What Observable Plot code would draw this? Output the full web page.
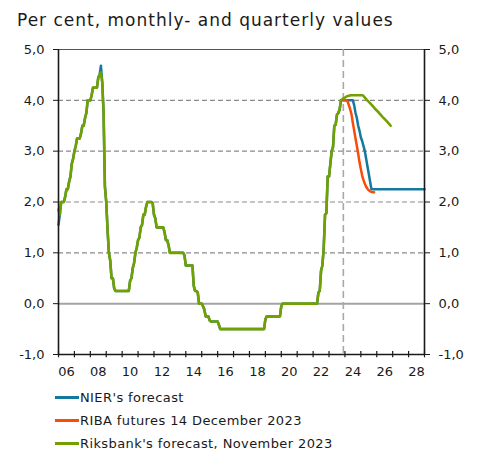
<!DOCTYPE html>
<html>
<head>
<meta charset="utf-8">
<script src="https://cdn.jsdelivr.net/npm/d3@7"></script>
<script src="https://cdn.jsdelivr.net/npm/@observablehq/plot@0.6"></script>
<style>
  html, body { margin: 0; padding: 0; background: #fff; }
  body { width: 480px; height: 452px; position: relative; overflow: hidden; font-family: "DejaVu Sans", sans-serif; color: #1a1a1a; }
  #subtitle { position: absolute; left: 17px; top: 12px; font-size: 17px; line-height: 17px; letter-spacing: 1px; white-space: nowrap; }
  #chart { position: absolute; left: 0; top: 0; }
  .leg { position: absolute; left: 55px; height: 16px; display: flex; align-items: center; font-size: 13px; letter-spacing: 0.4px; white-space: nowrap; }
  .sw { display: inline-block; width: 24px; height: 3px; margin-right: 1px; }
</style>
</head>
<body>
<div id="subtitle">Per cent, monthly- and quarterly values</div>
<div id="chart"></div>
<div id="legend"></div>
<script>
// ---- Data ----
const histYears = [2006,2007,2008,2009,2010,2011,2012,2013,2014,2015,2016,2017,2018,2019,2020,2021,2022,2023];
const policyRate = [
  [1.55,1.75,2.00,2.00,2.00,2.10,2.25,2.25,2.40,2.50,2.75,2.85],
  [3.00,3.10,3.25,3.25,3.25,3.35,3.50,3.50,3.65,3.75,4.00,4.00],
  [4.00,4.10,4.25,4.25,4.25,4.25,4.45,4.50,4.68,4.35,3.75,2.30],
  [2.00,1.45,1.00,0.85,0.50,0.50,0.30,0.25,0.25,0.25,0.25,0.25],
  [0.25,0.25,0.25,0.25,0.25,0.25,0.45,0.50,0.70,0.80,1.00,1.10],
  [1.25,1.30,1.50,1.55,1.75,1.75,1.90,2.00,2.00,2.00,2.00,1.98],
  [1.75,1.68,1.50,1.50,1.50,1.50,1.50,1.50,1.40,1.25,1.25,1.15],
  [1.00,1.00,1.00,1.00,1.00,1.00,1.00,1.00,1.00,1.00,1.00,0.95],
  [0.75,0.75,0.75,0.75,0.75,0.75,0.35,0.25,0.25,0.22,0.00,0.00],
  [0.00,-0.05,-0.12,-0.25,-0.25,-0.25,-0.33,-0.35,-0.35,-0.35,-0.35,-0.35],
  [-0.35,-0.42,-0.50,-0.50,-0.50,-0.50,-0.50,-0.50,-0.50,-0.50,-0.50,-0.50],
  [-0.50,-0.50,-0.50,-0.50,-0.50,-0.50,-0.50,-0.50,-0.50,-0.50,-0.50,-0.50],
  [-0.50,-0.50,-0.50,-0.50,-0.50,-0.50,-0.50,-0.50,-0.50,-0.50,-0.50,-0.50],
  [-0.31,-0.25,-0.25,-0.25,-0.25,-0.25,-0.25,-0.25,-0.25,-0.25,-0.25,-0.25],
  [-0.05,0.00,0.00,0.00,0.00,0.00,0.00,0.00,0.00,0.00,0.00,0.00],
  [0.00,0.00,0.00,0.00,0.00,0.00,0.00,0.00,0.00,0.00,0.00,0.00],
  [0.00,0.00,0.00,0.00,0.22,0.25,0.65,0.75,1.10,1.75,1.78,2.50],
  [2.50,2.75,3.00,3.08,3.50,3.52,3.72,3.75,3.82,4.00,4.00,4.00]
];
// Riksbank's historical series differs slightly at a few months: [year, monthIndex, value]
const riksbankHistDiff = [[2006, 0, 1.85], [2008, 8, 4.55]];
const riksbankHistEnd = [2023, 9]; // last monthly value shown (Oct 2023)

// NIER's forecast, monthly from Jan 2024
const nierYears = [2024,2025,2026,2027,2028,2029];
const nierForecast = [
  [4.00,4.00,4.00,4.00,4.00,4.00,4.00,3.90,3.75,3.65,3.50,3.40],
  [3.27,3.20,3.10,3.00,2.85,2.70,2.55,2.40,2.25,2.25,2.25,2.25],
  [2.25,2.25,2.25,2.25,2.25,2.25,2.25,2.25,2.25,2.25,2.25,2.25],
  [2.25,2.25,2.25,2.25,2.25,2.25,2.25,2.25,2.25,2.25,2.25,2.25],
  [2.25,2.25,2.25,2.25,2.25,2.25,2.25,2.25,2.25,2.25,2.25,2.25],
  [2.25]
];
// RIBA futures 14 December 2023, monthly from Dec 2023
const ribaStart = [2023, 11];
const ribaFutures = [4.00, 4.00,4.00,3.98,3.90,3.82,3.72,3.55,3.40,3.25,3.10,2.95,2.78,2.65,
                     2.52,2.43,2.36,2.30,2.26,2.23,2.21,2.20,2.19,2.19];
// Riksbank's forecast, November 2023, quarterly
const rbQuarters = ["2023Q4","2024Q1","2024Q2","2024Q3","2024Q4","2025Q1","2025Q2","2025Q3","2025Q4","2026Q1","2026Q2","2026Q3","2026Q4"];
const rbForecast = [4.03,4.08,4.10,4.10,4.10,4.10,4.01,3.93,3.84,3.76,3.67,3.59,3.50];

const forecastLine = [2023.9];
const yTicks = [-1,0,1,2,3,4,5];
const gridY = [1,2,3,4];
const xLabels = [2006,2008,2010,2012,2014,2016,2018,2020,2022,2024,2026,2028];
const yearTicks = [2006,2007,2008,2009,2010,2011,2012,2013,2014,2015,2016,2017,2018,2019,2020,2021,2022,2023,2024,2025,2026,2027,2028,2029];

const seriesNames = ["NIER's forecast", "RIBA futures 14 December 2023", "Riksbank's forecast, November 2023"];
const seriesColors = ["#14789f", "#fa4b0a", "#72a000"];

// ---- Build tables ----
const monthT = (y, m) => y + m / 12;
const nier = [];
histYears.forEach((y, i) => policyRate[i].forEach((v, m) => nier.push({t: monthT(y, m), v})));
nierYears.forEach((y, i) => nierForecast[i].forEach((v, m) => nier.push({t: monthT(y, m), v})));

const riba = ribaFutures.map((v, k) => {
  const idx = ribaStart[1] + k;
  return {t: monthT(ribaStart[0] + Math.floor(idx / 12), idx % 12), v};
});

const rb = [];
histYears.forEach((y, i) => policyRate[i].forEach((v, m) => {
  if (y > riksbankHistEnd[0] || (y === riksbankHistEnd[0] && m > riksbankHistEnd[1])) return;
  const d = riksbankHistDiff.find(e => e[0] === y && e[1] === m);
  rb.push({t: monthT(y, m), v: d ? d[2] : v});
}));
rbQuarters.forEach((q, i) => {
  const y = +q.slice(0, 4), qq = +q.slice(5);
  rb.push({t: y + (qq - 1) / 4 + 0.125, v: rbForecast[i]});
});

const fmt = d => d.toFixed(1).replace(".", ",");

const chart = Plot.plot({
  width: 480,
  height: 385,
  marginTop: 49,
  marginBottom: 31,
  marginLeft: 58,
  marginRight: 56,
  style: {fontFamily: "DejaVu Sans, sans-serif", fontSize: "13px", color: "#1a1a1a", background: "transparent", overflow: "visible"},
  x: {domain: [2006, 2029]},
  y: {domain: [-1, 5]},
  marks: [
    Plot.ruleY(gridY, {stroke: "#8a8a8a", strokeWidth: 1.2, strokeDasharray: "5,3"}),
    Plot.ruleY([5], {stroke: "#555", strokeWidth: 1.2}),
    Plot.ruleY([0], {stroke: "#a3a3a3", strokeWidth: 2}),
    Plot.ruleX(forecastLine, {stroke: "#a8a8a8", strokeWidth: 1.6, strokeDasharray: "7,4"}),
    Plot.line(nier, {x: "t", y: "v", stroke: seriesColors[0], strokeWidth: 2.5, strokeLinejoin: "round"}),
    Plot.line(riba, {x: "t", y: "v", stroke: seriesColors[1], strokeWidth: 2.5, strokeLinejoin: "round"}),
    Plot.line(rb, {x: "t", y: "v", stroke: seriesColors[2], strokeWidth: 2.6, strokeLinejoin: "round"}),
    Plot.ruleX([2006, 2029], {stroke: "#1a1a1a", strokeWidth: 1.6}),
    Plot.ruleY([-1], {stroke: "#1a1a1a", strokeWidth: 1.6}),
    Plot.ruleX(yearTicks, {y1: -1.065, y2: -0.94, stroke: "#1a1a1a", strokeWidth: 1.2}),
    Plot.axisY({anchor: "left", ticks: yTicks, tickSize: 5, tickPadding: 9, tickFormat: fmt, label: null, stroke: "#1a1a1a"}),
    Plot.axisY({anchor: "right", ticks: yTicks, tickSize: 5, tickPadding: 9, tickFormat: fmt, label: null, stroke: "#1a1a1a"}),
    Plot.axisX({ticks: xLabels.map(d => d + 0.5), tickSize: 0, tickPadding: 12, tickFormat: d => String(Math.floor(d) % 100).padStart(2, "0"), label: null})
  ]
});
document.getElementById("chart").appendChild(chart);

// ---- Legend ----
const legCenters = [397, 420, 443];
const leg = document.getElementById("legend");
seriesNames.forEach((name, i) => {
  const row = document.createElement("div");
  row.className = "leg";
  row.style.top = (legCenters[i] - 8) + "px";
  const sw = document.createElement("span");
  sw.className = "sw";
  sw.style.background = seriesColors[i];
  row.appendChild(sw);
  row.appendChild(document.createTextNode(name));
  leg.appendChild(row);
});
</script>
</body>
</html>
